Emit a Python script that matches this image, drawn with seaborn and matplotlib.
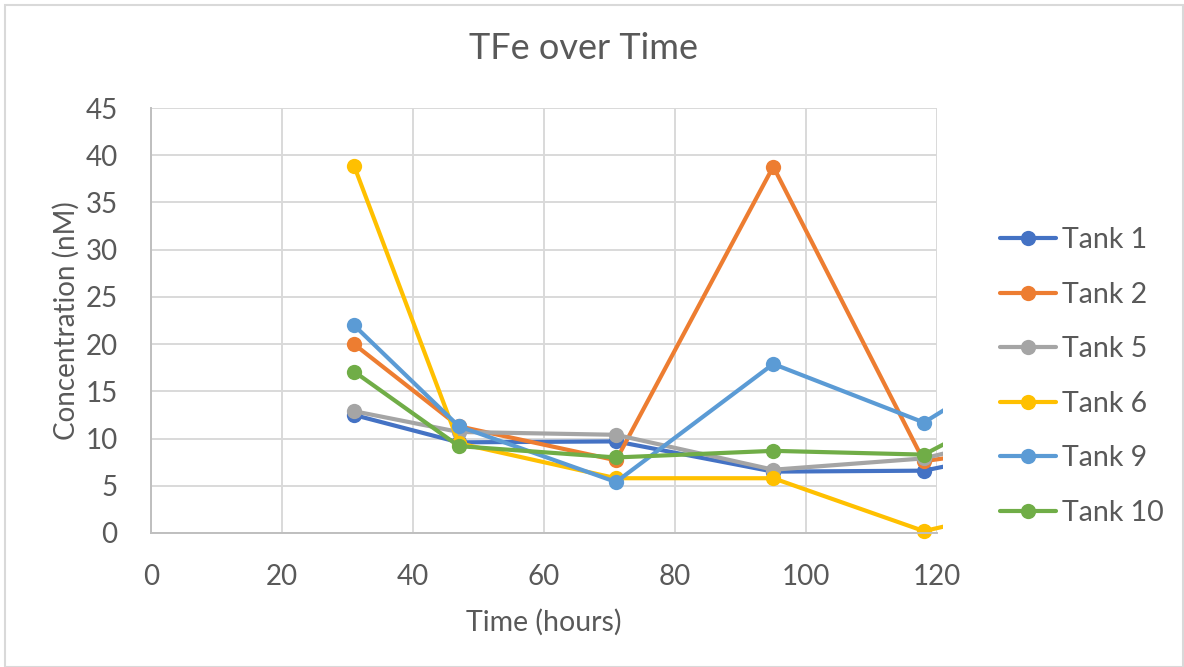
import matplotlib
matplotlib.use("Agg")
import matplotlib.pyplot as plt
import matplotlib.patches as mpatches
import pandas as pd
import seaborn as sns

# Sampling times (hours) and TFe concentrations (nM) per tank
hours = [31, 47, 71, 95, 118, 142]
tank_1 = [12.5, 9.6, 9.7, 6.5, 6.6, 10.0]
tank_2 = [20.0, 11.3, 7.7, 38.8, 7.6, 10.0]
tank_5 = [12.9, 10.7, 10.4, 6.7, 7.9, 12.0]
tank_6 = [38.9, 9.5, 5.8, 5.8, 0.2, 4.0]
tank_9 = [22.0, 11.3, 5.4, 17.9, 11.7, 22.0]
tank_10 = [17.1, 9.2, 8.0, 8.7, 8.3, 17.0]

series_names = ["Tank 1", "Tank 2", "Tank 5", "Tank 6", "Tank 9", "Tank 10"]
series_values = [tank_1, tank_2, tank_5, tank_6, tank_9, tank_10]
colors = ["#4472C4", "#ED7D31", "#A5A5A5", "#FFC000", "#5B9BD5", "#70AD47"]

x_ticks = [0, 20, 40, 60, 80, 100, 120]
y_ticks = [0, 5, 10, 15, 20, 25, 30, 35, 40, 45]

df = pd.concat(
    [pd.DataFrame({"Time": hours, "Concentration": v, "Tank": n})
     for n, v in zip(series_names, series_values)],
    ignore_index=True,
)

sns.set_theme(style="white")
plt.rcParams["font.family"] = ["Lato", "DejaVu Sans"]
text_color = "#595959"

fig = plt.figure(figsize=(11.84, 6.67), dpi=100)
ax = fig.add_axes([0.1275, 0.2009, 0.7914 - 0.1275, 0.838 - 0.2009])

sns.lineplot(
    data=df, x="Time", y="Concentration", hue="Tank",
    hue_order=series_names, palette=colors, marker="o",
    markersize=11, markeredgewidth=0, linewidth=3.0,
    sort=False, ax=ax, legend=True,
)

ax.set_xlim(0, 120)
ax.set_ylim(0, 45)
ax.set_xticks(x_ticks)
ax.set_yticks(y_ticks)
ax.grid(True, color="#d9d9d9", linewidth=1.4)
ax.set_axisbelow(True)
for side in ["top", "right"]:
    ax.spines[side].set_visible(False)
for side in ["left", "bottom"]:
    ax.spines[side].set_color("#bfbfbf")
    ax.spines[side].set_linewidth(1.4)
ax.tick_params(axis="both", length=0, labelsize=20, colors=text_color)
ax.tick_params(axis="y", pad=24)
ax.tick_params(axis="x", pad=22)

# Plot area extends a few pixels past the last axis value
clip = mpatches.Rectangle((0, -0.02), 1.008, 1.04, transform=ax.transAxes,
                          fill=False, visible=False)
ax.add_patch(clip)
for line in ax.get_lines():
    line.set_clip_path(clip)

ax.set_xlabel("Time (hours)", fontsize=20.5, color=text_color, labelpad=14)
ax.set_ylabel("Concentration (nM)", fontsize=20, color=text_color, labelpad=4)
fig.text(0.4925, 0.927, "TFe over Time", ha="center", va="center",
         fontsize=26, color=text_color)

handles, labels = ax.get_legend_handles_labels()
ax.legend(handles, labels, loc="center left", bbox_to_anchor=(1.066, 0.368),
          frameon=False, fontsize=20.5, labelcolor=text_color,
          handlelength=1.95, handletextpad=0.2, labelspacing=1.0,
          borderaxespad=0)

# Chart area border
fig.patches.append(mpatches.Rectangle((0.004, 0.0), 0.995, 0.993,
                                      transform=fig.transFigure, fill=False,
                                      edgecolor="#d9d9d9", linewidth=1.5))

fig.savefig("out.png", dpi=100, facecolor="white")
